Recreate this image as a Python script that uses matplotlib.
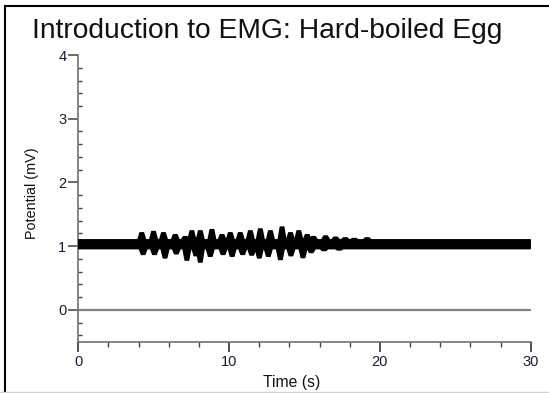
import matplotlib
matplotlib.use("Agg")
import matplotlib.pyplot as plt
from matplotlib.ticker import MultipleLocator
from matplotlib.lines import Line2D

plt.rcParams['font.family'] = ['Liberation Sans', 'DejaVu Sans']

title = "Introduction to EMG: Hard-boiled Egg"
x_label = "Time (s)"
y_label = "Potential (mV)"

# Recording span (s) and the resting noise band of the trace (mV)
trace_start, trace_end = 0.0, 29.97
band_top, band_bottom = 1.10, 0.96

# Positive bursts of the EMG trace: time (s) and peak potential (mV)
peak_t = [4.21, 4.99, 5.65, 6.43, 7.09, 7.53, 8.09, 8.86, 9.53, 10.08, 10.74,
          11.41, 12.07, 12.74, 13.51, 14.07, 14.62, 15.18, 15.6, 16.4, 17.06,
          17.7, 18.3, 19.16]
peak_v = [1.21, 1.23, 1.21, 1.18, 1.15, 1.24, 1.24, 1.26, 1.18, 1.21, 1.21,
          1.24, 1.27, 1.24, 1.30, 1.21, 1.24, 1.18, 1.15, 1.16, 1.14,
          1.13, 1.12, 1.13]

# Negative bursts: time (s) and trough potential (mV)
trough_t = [4.3, 5.05, 5.75, 6.5, 7.2, 7.8, 8.09, 8.75, 9.6, 10.2, 10.9,
            11.5, 12.0, 12.6, 13.4, 14.1, 14.9, 15.45, 16.3, 17.3]
trough_v = [0.87, 0.87, 0.815, 0.88, 0.78, 0.85, 0.75, 0.84, 0.87, 0.84, 0.87,
            0.86, 0.815, 0.84, 0.79, 0.85, 0.82, 0.90, 0.93, 0.94]

baseline_t = [0, 30]
baseline_v = [0, 0]

LOBE_HALF = 0.26  # half-width of a burst lobe on the time axis
LOBE_TOP = 0.45   # fraction of the half-width that stays at full height


def envelope(times, values, base):
    pts = [(trace_start, base)]
    for t, v in zip(times, values):
        pts += [(t - LOBE_HALF, base), (t - LOBE_HALF * LOBE_TOP, v),
                (t + LOBE_HALF * LOBE_TOP, v), (t + LOBE_HALF, base)]
    pts.append((trace_end, base))
    return pts


upper = envelope(peak_t, peak_v, band_top)
lower = envelope(trough_t, trough_v, band_bottom)
outline = upper + lower[::-1]

fig = plt.figure(figsize=(5.49, 3.93), dpi=100)
fig.patch.set_facecolor('white')
ax = fig.add_axes([0.1426, 0.1305, 0.8241, 0.7295])

# zero reference line
ax.plot(baseline_t, baseline_v, color='#808080', lw=1.6, zorder=2)

# EMG trace drawn as a filled band between its envelopes
ax.fill([p[0] for p in outline], [p[1] for p in outline],
        facecolor='black', edgecolor='black', lw=1.0, joinstyle='round',
        zorder=3)

ax.set_xlim(0, 30)
ax.set_ylim(-0.5, 4)
ax.set_xticks([0, 10, 20, 30])
ax.set_yticks([0, 1, 2, 3, 4])
ax.xaxis.set_minor_locator(MultipleLocator(2))
ax.yaxis.set_minor_locator(MultipleLocator(0.2))

for s in ('top', 'right'):
    ax.spines[s].set_visible(False)
for s in ('left', 'bottom'):
    ax.spines[s].set_color('#707070')
    ax.spines[s].set_linewidth(1.2)

ax.tick_params(axis='x', which='major', direction='out', length=7.5, width=1.1,
               color='#202020', labelsize=10.5, pad=2, labelcolor='#1a1a3a')
ax.tick_params(axis='x', which='minor', direction='out', length=3.5, width=1.0,
               color='#404040')
ax.tick_params(axis='y', which='major', direction='out', length=7, width=1.1,
               color='#404040', labelsize=10.5, pad=1.5, labelcolor='#1a1a3a')
ax.tick_params(axis='y', which='minor', direction='in', length=3, width=1.0,
               color='#404040')

fig.text(267.5 / 549, 1 - 31 / 393, title, ha='center', va='center',
         fontsize=20.3, color='#111111')
fig.text(292 / 549, 1 - 383 / 393, x_label, ha='center', va='center',
         fontsize=11.3, color='#111111')
fig.text(32 / 549, 1 - 193 / 393, y_label, ha='center', va='center',
         rotation=90, fontsize=10.4, color='#111111')

# window frame edges
fig.add_artist(Line2D([4.5 / 549, 4.5 / 549], [0, 1 - 6 / 393],
                      transform=fig.transFigure, color='black', lw=1.5))
fig.add_artist(Line2D([4.5 / 549, 1], [1 - 6 / 393, 1 - 6 / 393],
                      transform=fig.transFigure, color='black', lw=1.5))
fig.add_artist(Line2D([0, 1], [1.5 / 393, 1.5 / 393],
                      transform=fig.transFigure, color='#d0d0d0', lw=1.0))

fig.savefig("out.png", dpi=100, facecolor='white')
